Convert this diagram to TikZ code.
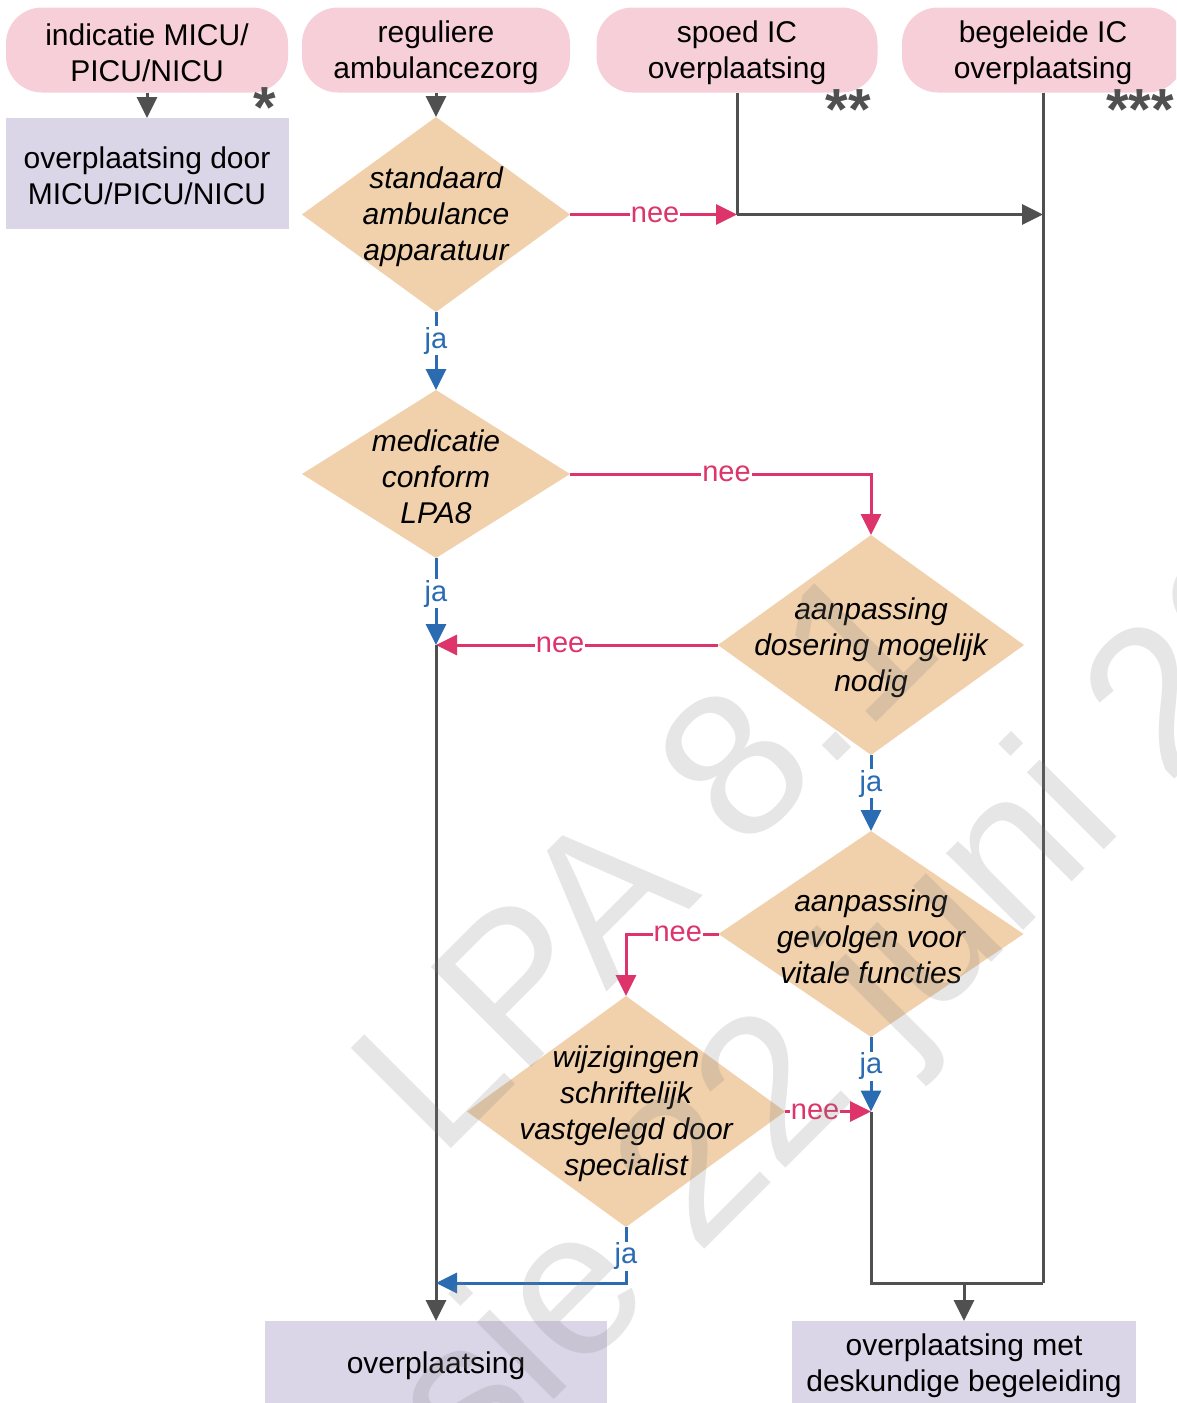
\documentclass[tikz,border=0pt]{standalone}
\usepackage{fontspec}
\setmainfont{Liberation Sans}
\usetikzlibrary{shapes.geometric,arrows.meta}

\definecolor{boxpink}{RGB}{247,207,216}
\definecolor{diapeach}{RGB}{241,208,172}
\definecolor{boxlav}{RGB}{218,214,232}
\definecolor{linegray}{RGB}{80,80,80}
\definecolor{linepink}{RGB}{221,52,107}
\definecolor{lineblue}{RGB}{42,107,178}

\begin{document}
\begin{tikzpicture}[x=1pt,y=-1pt,
  every node/.style={font=\fontsize{30}{36}\selectfont, inner sep=0pt, outer sep=0pt},
  startbox/.style={fill=boxpink, rounded corners=36pt, minimum width=#1, minimum height=85pt, align=center},
  endbox/.style={fill=boxlav, minimum width=#1, align=center},
  btext/.style={align=center, yshift=-2.5pt},
  dia/.style={diamond, fill=diapeach},
  dtext/.style={font=\fontsize{30}{36}\selectfont\itshape, align=center, yshift=-2.5pt},
  tip/.style={-{Triangle[length=21pt,width=20pt]}},
  gline/.style={draw=linegray, line width=3pt},
  pline/.style={draw=linepink, line width=3pt},
  bline/.style={draw=lineblue, line width=3pt},
  plab/.style={fill=white, text=linepink, font=\fontsize{29}{34}\selectfont, inner sep=1pt},
  blab/.style={fill=white, text=lineblue, font=\fontsize{29}{34}\selectfont, inner sep=1pt},
  stars/.style={text=linegray, font=\fontsize{58}{58}\bfseries\selectfont, anchor=base},
  wm/.style={text=black!50, opacity=0.2, font=\fontsize{206}{250}\selectfont, rotate=45, anchor=base west}
]
\useasboundingbox (0,0) rectangle (1176,1403);
\clip (0,0) rectangle (1176,1403);

% start boxes
\node[startbox=282pt] (b1) at (147,50) {};
\node[btext] (b1t) at (b1) {indicatie MICU/\\PICU/NICU};
\node[startbox=268pt] (b2) at (436,50) {};
\node[btext] (b2t) at (b2) {reguliere\\ambulancezorg};
\node[startbox=281pt] (b3) at (737,50) {};
\node[btext] (b3t) at (b3) {spoed IC\\overplaatsing};
\node[startbox=282pt] (b4) at (1043,50) {};
\node[btext] (b4t) at (b4) {begeleide IC\\overplaatsing};

% stars
\node[stars] (s1) at (265,127) {*};
\node[stars] (s2) at (848,129) {**};
\node[stars] (s3) at (1140,129) {***};

% end boxes
\node[endbox=283pt, minimum height=111pt] (b5) at (147,173.5) {};
\node[btext] (b5t) at (b5) {overplaatsing door\\MICU/PICU/NICU};
\node[endbox=342pt, minimum height=84pt] (b7) at (436,1363) {};
\node[btext] (b7t) at (b7) {overplaatsing};
\node[endbox=344pt, minimum height=84pt] (b8) at (964,1363) {};
\node[btext] (b8t) at (b8) {overplaatsing met\\deskundige begeleiding};

% diamonds
\node[dia, minimum width=268pt, minimum height=195pt] (d1) at (436,214.5) {};
\node[dtext] (t1) at (d1) {standaard\\ambulance\\apparatuur};
\node[dia, minimum width=268pt, minimum height=168pt] (d2) at (436,474) {};
\node[dtext] (t2) at (d2) {medicatie\\conform\\LPA8};
\node[dia, minimum width=306pt, minimum height=220pt] (d3) at (871,645) {};
\node[dtext] (t3) at (d3) {aanpassing\\dosering mogelijk\\nodig};
\node[dia, minimum width=305pt, minimum height=206pt] (d4) at (871,934) {};
\node[dtext] (t4) at (d4) {aanpassing\\gevolgen voor\\vitale functies};
\node[dia, minimum width=318pt, minimum height=231pt] (d5) at (626,1111.5) {};
\node[dtext] (t5) at (d5) {wijzigingen\\schriftelijk\\vastgelegd door\\specialist};

% junctions
\coordinate (j1) at (b3.south |- d1.east);
\coordinate (j2) at (b4.south |- d1.east);
\coordinate (j3) at (d2.south |- d3.west);
\coordinate (j4) at (d4.south |- d5.east);
\coordinate (j6) at (1043,1283);
\coordinate (j5) at (j4 |- j6);
\coordinate (j7) at (b8.north |- j6);
\coordinate (j8) at (j3 |- j6);

% connectors
\draw[gline,tip] (b1.south) -- (b5.north);
\draw[gline,tip] (b2.south) -- (d1.north);
\draw[gline] (b3.south) -- (j1);
\draw[gline,tip] (j1) -- (j2);
\draw[gline] (b4.south) -- (j6);
\draw[pline,tip] (d1.east) -- node[plab,pos=0.51]{nee} (j1);
\draw[bline,tip] (d1.south) -- node[blab,pos=0.37]{ja} (d2.north);
\draw[pline,tip] (d2.east) -| node[plab,pos=0.26]{nee} (d3.north);
\draw[bline,tip] (d2.south) -- node[blab,pos=0.41]{ja} (j3);
\draw[pline,tip] (d3.west) -- node[plab,pos=0.56]{nee} (j3);
\draw[gline,tip] (j3) -- (b7.north);
\draw[bline,tip] (d3.south) -- node[blab,pos=0.38]{ja} (d4.north);
\draw[pline,tip] (d4.west) -| node[plab,pos=0.22]{nee} (d5.north);
\draw[bline,tip] (d4.south) -- node[blab,pos=0.39]{ja} (j4);
\draw[pline,tip] (d5.east) -- node[plab,pos=0.35]{nee} (j4);
\draw[gline] (j4) -- (j5) -- (j6);
\draw[gline,tip] (j7) -- (b8.north);
\draw[bline,tip] (d5.south) |- node[blab,pos=0.26]{ja} (j8);

% watermark
\node[wm] (wm1) at (439,1160) {LPA 8.1};
\node[wm] (wm2) at (269,1685) {versie 22 juni 20};
\end{tikzpicture}
\end{document}
